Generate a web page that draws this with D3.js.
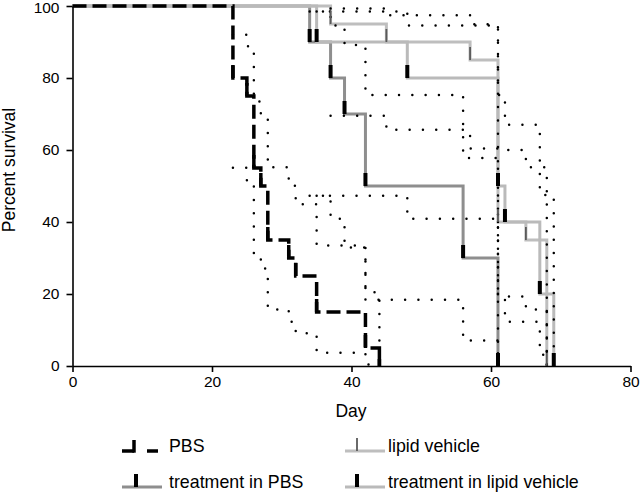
<!DOCTYPE html>
<html>
<head>
<meta charset="utf-8">
<script src="https://cdn.jsdelivr.net/npm/d3@7"></script>
<style>
  body { margin: 0; background: #fff; }
  svg { display: block; font-family: "Liberation Sans", Arial, sans-serif; }
</style>
</head>
<body>
<div id="grafico"></div>
<script>
// survival steps (day of event, percent surviving after it)
const pbsDays = [23, 25, 26, 27, 28, 31, 32, 35, 42, 44];
const pbsSurv = [80, 75, 55, 50, 35, 30, 25, 15, 5, 0];
const pbsUpper = [92.0, 88.8, 73.5, 69.2, 55.2, 50.1, 44.9, 33.5, 20.5, 0];
const pbsLower = [55.1, 50.0, 31.3, 27.1, 15.7, 12.3, 9.1, 3.7, 0.4, 0];

const tpDays = [34, 37, 39, 42, 56, 61];
const tpSurv = [90, 80, 70, 50, 30, 0];
const tpUpper = [98.5, 94.6, 89.2, 75.3, 57.8, 0];
const tpLower = [47.3, 40.9, 32.9, 18.4, 7.1, 0];

const lvDays = [37, 45, 57, 61, 65, 68];
const lvSurv = [95, 90, 85, 40, 35, 0];
const lvUpper = [99.3, 97.4, 94.9, 60.0, 55.2, 0];
const lvLower = [69.5, 65.6, 60.4, 19.3, 15.7, 0];

const tlvDays = [35, 48, 61, 62, 67, 69];
const tlvSurv = [90, 80, 50, 40, 20, 0];
const tlvUpper = [98.5, 94.6, 75.3, 67.0, 47.5, 0];
const tlvLower = [47.3, 40.9, 18.4, 12.3, 3.1, 0];

const xTicks = [0, 20, 40, 60, 80];
const yTicks = [0, 20, 40, 60, 80, 100];

const width = 640;
const height = 493;

const x = d3.scaleLinear().domain([0, 80]).range([72.5, 630.5]);
const y = d3.scaleLinear().domain([0, 100]).range([366, 6]);

// order = drawing order (later on top)
const series = [
  { name: "treatment in PBS", days: tpDays, surv: tpSurv, up: tpUpper, lo: tpLower,
    color: "#8e8e8e", tick: "#000", tickW: 4, dash: null },
  { name: "lipid vehicle", days: lvDays, surv: lvSurv, up: lvUpper, lo: lvLower,
    color: "#bebebe", tick: "#5a5a5a", tickW: 1.8, dash: null },
  { name: "treatment in lipid vehicle", days: tlvDays, surv: tlvSurv, up: tlvUpper, lo: tlvLower,
    color: "#bababa", tick: "#000", tickW: 4, dash: null },
  { name: "PBS", days: pbsDays, surv: pbsSurv, up: pbsUpper, lo: pbsLower,
    color: "#000", tick: "#000", tickW: 3.5, dash: "14,6" }
];

const svg = d3.select("#grafico")
  .append("svg")
  .attr("width", width)
  .attr("height", height);

const step = d3.line()
  .x((d) => x(d[0]))
  .y((d) => y(d[1]))
  .curve(d3.curveStepAfter);

// survival curves
series.forEach((s) => {
  const pts = [[0, 100]].concat(s.days.map((d, i) => [d, s.surv[i]]));
  svg.append("path")
    .attr("d", step(pts))
    .attr("fill", "none")
    .attr("stroke", s.color)
    .attr("stroke-width", s.dash ? 3.5 : 3)
    .attr("stroke-dasharray", s.dash);
});

// confidence bands (dotted)
series.forEach((s) => {
  [s.up, s.lo].forEach((band) => {
    svg.append("path")
      .attr("d", step(s.days.map((d, i) => [d, band[i]])))
      .attr("fill", "none")
      .attr("stroke", "#000")
      .attr("stroke-width", 2.5)
      .attr("stroke-linecap", "round")
      .attr("stroke-dasharray", "0,13.3");
  });
});

// event symbols (vertical bars)
series.forEach((s) => {
  svg.append("g")
    .selectAll("line")
    .data(s.days.map((d, i) => [d, s.surv[i]]))
    .join("line")
    .attr("x1", (d) => x(d[0]))
    .attr("x2", (d) => x(d[0]))
    .attr("y1", (d) => y(d[1]))
    .attr("y2", (d) => y(d[1]) - 13)
    .attr("stroke", s.tick)
    .attr("stroke-width", s.tickW);
});

// axes
const ejeX = svg.append("g")
  .attr("transform", `translate(0, ${y(0)})`)
  .call(d3.axisBottom(x).tickValues(xTicks).tickSize(6).tickSizeOuter(0).tickPadding(4));
const ejeY = svg.append("g")
  .attr("transform", `translate(${x(0)}, 0)`)
  .call(d3.axisLeft(y).tickValues(yTicks).tickSize(6).tickSizeOuter(0).tickPadding(7));

[ejeX, ejeY].forEach((g) => {
  g.select(".domain").attr("stroke", "#000").attr("stroke-width", 1.6);
  g.selectAll(".tick line").attr("stroke", "#000").attr("stroke-width", 1.6);
  g.selectAll(".tick text")
    .attr("fill", "#000")
    .style("font-size", "15.5px")
    .style("font-family", "'Liberation Sans', Arial, sans-serif");
});
// keep the "100" label inside the picture
ejeY.selectAll(".tick text").filter((d) => d === 100).attr("dy", "0.38em").attr("y", 1);

svg.append("text")
  .attr("x", 351)
  .attr("y", 417)
  .attr("text-anchor", "middle")
  .style("font-size", "17.5px")
  .text("Day");

svg.append("text")
  .attr("transform", "translate(15, 170) rotate(-90)")
  .attr("text-anchor", "middle")
  .style("font-size", "17.5px")
  .text("Percent survival");

// legend
const leyendas = [
  { texto: "PBS", color: "#000", tick: "#000", tickW: 3.5, col: 0, row: 0, dashed: true },
  { texto: "lipid vehicle", color: "#bebebe", tick: "#5a5a5a", tickW: 1.8, col: 1, row: 0 },
  { texto: "treatment in PBS", color: "#8e8e8e", tick: "#000", tickW: 4, col: 0, row: 1 },
  { texto: "treatment in lipid vehicle", color: "#bababa", tick: "#000", tickW: 4, col: 1, row: 1 }
];

const leyenda = svg.append("g");
leyenda.selectAll("g")
  .data(leyendas)
  .join("g")
  .attr("transform", (d) => `translate(${d.col ? 345 : 122}, ${d.row ? 487 : 451})`)
  .each(function (d) {
    const g = d3.select(this);
    if (d.dashed) {
      g.append("path")
        .attr("d", "M0,0H12M25,0H36")
        .attr("stroke", d.color)
        .attr("stroke-width", 3.5);
      g.append("line")
        .attr("x1", 12).attr("x2", 12)
        .attr("y1", 1.7).attr("y2", -11)
        .attr("stroke", d.tick)
        .attr("stroke-width", d.tickW);
    } else {
      g.append("line")
        .attr("x1", 0).attr("x2", 40)
        .attr("y1", 0).attr("y2", 0)
        .attr("stroke", d.color)
        .attr("stroke-width", 3);
      g.append("line")
        .attr("x1", d.col ? 12 : 14).attr("x2", d.col ? 12 : 14)
        .attr("y1", 0).attr("y2", -13)
        .attr("stroke", d.tick)
        .attr("stroke-width", d.tickW);
    }
    g.append("text")
      .attr("x", d.col ? 43 : 47)
      .attr("y", 1)
      .style("font-size", "17.8px")
      .text(d.texto);
  });
</script>
</body>
</html>
